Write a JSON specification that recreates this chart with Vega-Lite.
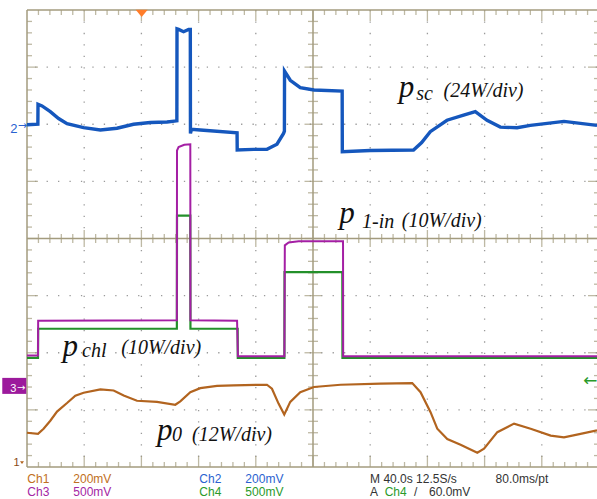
{
"$schema":"https://vega.github.io/schema/vega-lite/v6.json",
"width":570,"height":457,
"autosize":{"type":"none"},
"padding":{"left":27,"top":10,"right":0,"bottom":32},
"background":"#ffffff",
"config":{"view":{"stroke":null}},
"datasets":{
"traces":[
{"ch":"Ch2","t":0,"v":5.99},{"ch":"Ch2","t":7.6,"v":6.0},{"ch":"Ch2","t":7.7,"v":6.35},{"ch":"Ch2","t":10.5,"v":6.32},{"ch":"Ch2","t":16.3,"v":6.22},{"ch":"Ch2","t":22.1,"v":6.10},{"ch":"Ch2","t":28.0,"v":6.01},{"ch":"Ch2","t":39.6,"v":5.94},{"ch":"Ch2","t":51.3,"v":5.90},{"ch":"Ch2","t":62.9,"v":5.93},{"ch":"Ch2","t":74.5,"v":6.00},{"ch":"Ch2","t":86.2,"v":6.03},{"ch":"Ch2","t":97.9,"v":6.04},{"ch":"Ch2","t":104.8,"v":6.06},{"ch":"Ch2","t":104.9,"v":7.67},{"ch":"Ch2","t":106.0,"v":7.66},{"ch":"Ch2","t":109.5,"v":7.62},{"ch":"Ch2","t":113.0,"v":7.66},{"ch":"Ch2","t":114.2,"v":7.66},{"ch":"Ch2","t":114.3,"v":5.84},{"ch":"Ch2","t":115.0,"v":5.91},{"ch":"Ch2","t":121.2,"v":5.90},{"ch":"Ch2","t":146.9,"v":5.85},{"ch":"Ch2","t":147.0,"v":5.55},{"ch":"Ch2","t":158.5,"v":5.56},{"ch":"Ch2","t":167.8,"v":5.56},{"ch":"Ch2","t":174.8,"v":5.65},{"ch":"Ch2","t":179.4,"v":5.84},{"ch":"Ch2","t":180.0,"v":5.88},{"ch":"Ch2","t":180.1,"v":6.93},{"ch":"Ch2","t":184.1,"v":6.77},{"ch":"Ch2","t":191.1,"v":6.64},{"ch":"Ch2","t":200.7,"v":6.60},{"ch":"Ch2","t":220.4,"v":6.58},{"ch":"Ch2","t":220.5,"v":5.52},{"ch":"Ch2","t":240,"v":5.54},{"ch":"Ch2","t":270.3,"v":5.55},{"ch":"Ch2","t":276,"v":5.68},{"ch":"Ch2","t":282.0,"v":5.87},{"ch":"Ch2","t":293.7,"v":6.07},{"ch":"Ch2","t":305.3,"v":6.16},{"ch":"Ch2","t":313.5,"v":6.22},{"ch":"Ch2","t":321.7,"v":6.07},{"ch":"Ch2","t":331.0,"v":5.95},{"ch":"Ch2","t":342.7,"v":5.94},{"ch":"Ch2","t":352.0,"v":5.98},{"ch":"Ch2","t":375.5,"v":6.05},{"ch":"Ch2","t":398.6,"v":5.98},
{"ch":"Ch4","t":0,"v":1.91},{"ch":"Ch4","t":7.7,"v":1.91},{"ch":"Ch4","t":7.8,"v":2.42},{"ch":"Ch4","t":104.8,"v":2.42},{"ch":"Ch4","t":104.9,"v":4.40},{"ch":"Ch4","t":114.2,"v":4.40},{"ch":"Ch4","t":114.3,"v":2.42},{"ch":"Ch4","t":147.3,"v":2.42},{"ch":"Ch4","t":147.4,"v":1.91},{"ch":"Ch4","t":180.0,"v":1.91},{"ch":"Ch4","t":180.1,"v":3.41},{"ch":"Ch4","t":220.5,"v":3.41},{"ch":"Ch4","t":220.6,"v":1.91},{"ch":"Ch4","t":398.6,"v":1.91},
{"ch":"Ch3","t":0,"v":1.95},{"ch":"Ch3","t":7.7,"v":1.95},{"ch":"Ch3","t":7.8,"v":2.56},{"ch":"Ch3","t":104.8,"v":2.57},{"ch":"Ch3","t":104.9,"v":5.54},{"ch":"Ch3","t":106,"v":5.6},{"ch":"Ch3","t":110,"v":5.64},{"ch":"Ch3","t":114.2,"v":5.65},{"ch":"Ch3","t":114.3,"v":2.57},{"ch":"Ch3","t":146.9,"v":2.56},{"ch":"Ch3","t":147.5,"v":1.94},{"ch":"Ch3","t":180.0,"v":1.94},{"ch":"Ch3","t":180.3,"v":3.88},{"ch":"Ch3","t":183,"v":3.93},{"ch":"Ch3","t":190,"v":3.95},{"ch":"Ch3","t":221,"v":3.95},{"ch":"Ch3","t":221.1,"v":1.94},{"ch":"Ch3","t":398.6,"v":1.94},
{"ch":"Ch1","t":0,"v":0.60},{"ch":"Ch1","t":7.7,"v":0.58},{"ch":"Ch1","t":11.6,"v":0.67},{"ch":"Ch1","t":16.3,"v":0.81},{"ch":"Ch1","t":21.0,"v":0.97},{"ch":"Ch1","t":28.0,"v":1.12},{"ch":"Ch1","t":33.8,"v":1.25},{"ch":"Ch1","t":39.6,"v":1.30},{"ch":"Ch1","t":51.3,"v":1.36},{"ch":"Ch1","t":60.6,"v":1.34},{"ch":"Ch1","t":67.6,"v":1.25},{"ch":"Ch1","t":76.9,"v":1.16},{"ch":"Ch1","t":90.9,"v":1.14},{"ch":"Ch1","t":103.7,"v":1.09},{"ch":"Ch1","t":107.2,"v":1.15},{"ch":"Ch1","t":114.2,"v":1.31},{"ch":"Ch1","t":121.2,"v":1.38},{"ch":"Ch1","t":132.9,"v":1.42},{"ch":"Ch1","t":144.5,"v":1.43},{"ch":"Ch1","t":167.8,"v":1.44},{"ch":"Ch1","t":171.3,"v":1.37},{"ch":"Ch1","t":175.9,"v":1.11},{"ch":"Ch1","t":179.9,"v":0.92},{"ch":"Ch1","t":184.1,"v":1.14},{"ch":"Ch1","t":191.1,"v":1.31},{"ch":"Ch1","t":200.7,"v":1.40},{"ch":"Ch1","t":219.3,"v":1.44},{"ch":"Ch1","t":247.3,"v":1.46},{"ch":"Ch1","t":269.4,"v":1.47},{"ch":"Ch1","t":275.2,"v":1.31},{"ch":"Ch1","t":282.2,"v":0.96},{"ch":"Ch1","t":286.9,"v":0.67},{"ch":"Ch1","t":293.9,"v":0.49},{"ch":"Ch1","t":303.2,"v":0.39},{"ch":"Ch1","t":314.9,"v":0.25},{"ch":"Ch1","t":319.6,"v":0.32},{"ch":"Ch1","t":328.9,"v":0.61},{"ch":"Ch1","t":340.6,"v":0.76},{"ch":"Ch1","t":352.2,"v":0.67},{"ch":"Ch1","t":366.2,"v":0.55},{"ch":"Ch1","t":375.5,"v":0.52},{"ch":"Ch1","t":387.1,"v":0.58},{"ch":"Ch1","t":398.6,"v":0.64}
],
"tx":[{"t":8},{"t":16},{"t":24},{"t":32},{"t":40},{"t":48},{"t":56},{"t":64},{"t":72},{"t":80},{"t":88},{"t":96},{"t":104},{"t":112},{"t":120},{"t":128},{"t":136},{"t":144},{"t":152},{"t":160},{"t":168},{"t":176},{"t":184},{"t":192},{"t":200},{"t":208},{"t":216},{"t":224},{"t":232},{"t":240},{"t":248},{"t":256},{"t":264},{"t":272},{"t":280},{"t":288},{"t":296},{"t":304},{"t":312},{"t":320},{"t":328},{"t":336},{"t":344},{"t":352},{"t":360},{"t":368},{"t":376},{"t":384},{"t":392}],
"ty":[{"v":0.2},{"v":0.4},{"v":0.6},{"v":0.8},{"v":1},{"v":1.2},{"v":1.4},{"v":1.6},{"v":1.8},{"v":2},{"v":2.2},{"v":2.4},{"v":2.6},{"v":2.8},{"v":3},{"v":3.2},{"v":3.4},{"v":3.6},{"v":3.8},{"v":4},{"v":4.2},{"v":4.4},{"v":4.6},{"v":4.8},{"v":5},{"v":5.2},{"v":5.4},{"v":5.6},{"v":5.8},{"v":6},{"v":6.2},{"v":6.4},{"v":6.6},{"v":6.8},{"v":7},{"v":7.2},{"v":7.4},{"v":7.6},{"v":7.8}],
"gx":[{"t":40},{"t":80},{"t":120},{"t":160},{"t":240},{"t":280},{"t":320},{"t":360}],
"gy":[{"v":1},{"v":2},{"v":3},{"v":5},{"v":6},{"v":7}],
"hl":[{"v":0},{"v":4},{"v":8}],
"vl":[{"t":0},{"t":200}],
"pl":[{"t":259.9,"v":6.48,"text":"p"},{"t":218.4,"v":4.27,"text":"p"},{"t":24.9,"v":1.95,"text":"p"},{"t":90.9,"v":0.465,"text":"p"}],
"sub":[{"t":272.2,"v":6.43,"text":"sc"},{"t":234.3,"v":4.18,"text":"1-in"},{"t":38.5,"v":1.93,"text":"chl"},{"t":101.4,"v":0.45,"text":"0"}],
"unit":[{"t":291.3,"v":6.47,"text":"(24W/div)"},{"t":262.1,"v":4.20,"text":"(10W/div)"},{"t":65.9,"v":1.97,"text":"(10W/div)"},{"t":115.4,"v":0.455,"text":"(12W/div)"}],
"status":[
{"t":0.2,"v":-0.274,"text":"Ch1","ch":"Ch1"},{"t":32.4,"v":-0.274,"text":"200mV","ch":"Ch1"},{"t":120.5,"v":-0.274,"text":"Ch2","ch":"Ch2"},{"t":152.7,"v":-0.274,"text":"200mV","ch":"Ch2"},{"t":239.9,"v":-0.274,"text":"M 40.0s 12.5S/s","ch":"M"},{"t":327.7,"v":-0.274,"text":"80.0ms/pt","ch":"M"},
{"t":0.2,"v":-0.502,"text":"Ch3","ch":"Ch3"},{"t":32.4,"v":-0.502,"text":"500mV","ch":"Ch3"},{"t":120.5,"v":-0.502,"text":"Ch4","ch":"Ch4"},{"t":152.7,"v":-0.502,"text":"500mV","ch":"Ch4"},{"t":239.9,"v":-0.502,"text":"A","ch":"M"},{"t":250.1,"v":-0.502,"text":"Ch4","ch":"Ch4"},{"t":270.6,"v":-0.502,"text":"/","ch":"M"},{"t":281.1,"v":-0.502,"text":"60.0mV","ch":"M"}],
"mk":[
{"kind":"ch2num","t":-11.7,"v":5.85,"text":"2"},
{"kind":"ch2arrow","t":0,"v":5.97,"text":"→"},
{"kind":"ch3box","t":-8.9,"v":1.42},
{"kind":"ch3num","t":-11.7,"v":1.31,"text":"3"},
{"kind":"ch3arrow","t":-1.2,"v":1.39,"text":"→"},
{"kind":"ch1num","t":-9.4,"v":0.02,"text":"1"},
{"kind":"ch1arrow","t":-3.5,"v":0.08},
{"kind":"trig","t":80.2,"v":7.94},
{"kind":"level","t":389.0,"v":1.51,"text":"←"}]
},
"layer":[
{"data":{"name":"gx"},
 "mark":{"type":"rule","color":"#9a9a9a","strokeWidth":1.3,"strokeDash":[1.3,10.125]},
 "encoding":{"x":{"field":"t","type":"quantitative","scale":{"domain":[0,398.6],"nice":false,"zero":false},"axis":null}}},
{"data":{"name":"gy"},
 "mark":{"type":"rule","color":"#9a9a9a","strokeWidth":1.3,"strokeDash":[1.3,10.14]},
 "encoding":{"y":{"field":"v","type":"quantitative","scale":{"domain":[0,8],"nice":false,"zero":false},"axis":null}}},
{"data":{"name":"tx"},"transform":[{"filter":"datum.t % 40 != 0"}],
 "mark":{"type":"tick","orient":"vertical","size":5,"thickness":1.3,"color":"#a39b7e","yOffset":2.5},
 "encoding":{"x":{"field":"t","type":"quantitative","axis":null},"y":{"datum":8,"type":"quantitative","axis":null}}},
{"data":{"name":"ty"},"transform":[{"filter":"abs(datum.v - round(datum.v)) > 0.01"}],
 "mark":{"type":"tick","orient":"horizontal","size":5,"thickness":1.3,"color":"#a39b7e","xOffset":2.5},
 "encoding":{"y":{"field":"v","type":"quantitative","axis":null},"x":{"datum":0,"type":"quantitative","axis":null}}},
{"data":{"name":"tx"},"transform":[{"filter":"datum.t % 40 == 0"}],
 "mark":{"type":"tick","orient":"vertical","size":11,"thickness":1.3,"color":"#a39b7e","yOffset":5.5},
 "encoding":{"x":{"field":"t","type":"quantitative","axis":null},"y":{"datum":8,"type":"quantitative","axis":null}}},
{"data":{"name":"tx"},"transform":[{"filter":"datum.t % 40 != 0"}],
 "mark":{"type":"tick","orient":"vertical","size":5,"thickness":1.3,"color":"#a39b7e","yOffset":-2.5},
 "encoding":{"x":{"field":"t","type":"quantitative","axis":null},"y":{"datum":0,"type":"quantitative","axis":null}}},
{"data":{"name":"tx"},"transform":[{"filter":"datum.t % 40 == 0"}],
 "mark":{"type":"tick","orient":"vertical","size":11,"thickness":1.3,"color":"#a39b7e","yOffset":-5.5},
 "encoding":{"x":{"field":"t","type":"quantitative","axis":null},"y":{"datum":0,"type":"quantitative","axis":null}}},
{"data":{"name":"tx"},"transform":[{"filter":"datum.t % 40 != 0"}],
 "mark":{"type":"tick","orient":"vertical","size":9,"thickness":1.3,"color":"#a39b7e"},
 "encoding":{"x":{"field":"t","type":"quantitative","axis":null},"y":{"datum":4,"type":"quantitative","axis":null}}},
{"data":{"name":"tx"},"transform":[{"filter":"datum.t % 40 == 0"}],
 "mark":{"type":"tick","orient":"vertical","size":17,"thickness":1.3,"color":"#a39b7e"},
 "encoding":{"x":{"field":"t","type":"quantitative","axis":null},"y":{"datum":4,"type":"quantitative","axis":null}}},
{"data":{"name":"ty"},"transform":[{"filter":"abs(datum.v - round(datum.v)) < 0.01"}],
 "mark":{"type":"tick","orient":"horizontal","size":11,"thickness":1.3,"color":"#a39b7e","xOffset":5.5},
 "encoding":{"y":{"field":"v","type":"quantitative","axis":null},"x":{"datum":0,"type":"quantitative","axis":null}}},
{"data":{"name":"ty"},"transform":[{"filter":"abs(datum.v - round(datum.v)) > 0.01"}],
 "mark":{"type":"tick","orient":"horizontal","size":5,"thickness":1.3,"color":"#a39b7e","xOffset":-2.5},
 "encoding":{"y":{"field":"v","type":"quantitative","axis":null},"x":{"datum":400,"type":"quantitative","axis":null}}},
{"data":{"name":"ty"},"transform":[{"filter":"abs(datum.v - round(datum.v)) < 0.01"}],
 "mark":{"type":"tick","orient":"horizontal","size":11,"thickness":1.3,"color":"#a39b7e","xOffset":-5.5},
 "encoding":{"y":{"field":"v","type":"quantitative","axis":null},"x":{"datum":400,"type":"quantitative","axis":null}}},
{"data":{"name":"ty"},"transform":[{"filter":"abs(datum.v - round(datum.v)) > 0.01"}],
 "mark":{"type":"tick","orient":"horizontal","size":10,"thickness":1.3,"color":"#a39b7e"},
 "encoding":{"y":{"field":"v","type":"quantitative","axis":null},"x":{"datum":200,"type":"quantitative","axis":null}}},
{"data":{"name":"ty"},"transform":[{"filter":"abs(datum.v - round(datum.v)) < 0.01"}],
 "mark":{"type":"tick","orient":"horizontal","size":17,"thickness":1.3,"color":"#a39b7e"},
 "encoding":{"y":{"field":"v","type":"quantitative","axis":null},"x":{"datum":200,"type":"quantitative","axis":null}}},
{"data":{"name":"hl"},"mark":{"type":"rule","color":"#a39b7e","strokeWidth":1.5},
 "encoding":{"y":{"field":"v","type":"quantitative","axis":null}}},
{"data":{"name":"vl"},"mark":{"type":"rule","color":"#a39b7e","strokeWidth":1.5},
 "encoding":{"x":{"field":"t","type":"quantitative","axis":null}}},
{"data":{"name":"traces"},"transform":[{"filter":"datum.ch == 'Ch4'"}],
 "mark":{"type":"line","color":"#23902a","strokeWidth":2.2},
 "encoding":{"x":{"field":"t","type":"quantitative","axis":null},"y":{"field":"v","type":"quantitative","axis":null},"order":{"field":"t"}}},
{"data":{"name":"traces"},"transform":[{"filter":"datum.ch == 'Ch3'"}],
 "mark":{"type":"line","color":"#a41fa4","strokeWidth":2},
 "encoding":{"x":{"field":"t","type":"quantitative","axis":null},"y":{"field":"v","type":"quantitative","axis":null},"order":{"field":"t"}}},
{"data":{"name":"traces"},"transform":[{"filter":"datum.ch == 'Ch1'"}],
 "mark":{"type":"line","color":"#b2641f","strokeWidth":2.2},
 "encoding":{"x":{"field":"t","type":"quantitative","axis":null},"y":{"field":"v","type":"quantitative","axis":null},"order":{"field":"t"}}},
{"data":{"name":"traces"},"transform":[{"filter":"datum.ch == 'Ch2'"}],
 "mark":{"type":"line","color":"#1557bd","strokeWidth":3.4},
 "encoding":{"x":{"field":"t","type":"quantitative","axis":null},"y":{"field":"v","type":"quantitative","axis":null},"order":{"field":"t"}}},
{"data":{"name":"pl"},"mark":{"type":"text","font":"Liberation Serif","fontSize":31,"fontStyle":"italic","align":"left","baseline":"alphabetic","color":"#111111"},
 "encoding":{"x":{"field":"t","type":"quantitative","axis":null},"y":{"field":"v","type":"quantitative","axis":null},"text":{"field":"text"}}},
{"data":{"name":"sub"},"mark":{"type":"text","font":"Liberation Serif","fontSize":20,"fontStyle":"italic","align":"left","baseline":"alphabetic","color":"#111111"},
 "encoding":{"x":{"field":"t","type":"quantitative","axis":null},"y":{"field":"v","type":"quantitative","axis":null},"text":{"field":"text"}}},
{"data":{"name":"unit"},"mark":{"type":"text","font":"Liberation Serif","fontSize":20,"fontStyle":"italic","align":"left","baseline":"alphabetic","color":"#111111"},
 "encoding":{"x":{"field":"t","type":"quantitative","axis":null},"y":{"field":"v","type":"quantitative","axis":null},"text":{"field":"text"}}},
{"data":{"name":"status"},"mark":{"type":"text","font":"Liberation Sans","fontSize":12,"align":"left","baseline":"alphabetic"},
 "encoding":{"x":{"field":"t","type":"quantitative","axis":null},"y":{"field":"v","type":"quantitative","axis":null},"text":{"field":"text"},
  "color":{"field":"ch","type":"nominal","scale":{"domain":["Ch1","Ch2","Ch3","Ch4","M"],"range":["#bf6f22","#2a62d0","#a425a4","#2a9a2a","#333333"]},"legend":null}}},
{"data":{"name":"mk"},"transform":[{"filter":"datum.kind == 'ch2num'"}],"mark":{"type":"text","font":"Liberation Sans","fontSize":13,"align":"left","baseline":"alphabetic","color":"#2a62d0"},
 "encoding":{"x":{"field":"t","type":"quantitative","axis":null},"y":{"field":"v","type":"quantitative","axis":null},"text":{"field":"text"}}},
{"data":{"name":"mk"},"transform":[{"filter":"datum.kind == 'ch2arrow'"}],"mark":{"type":"text","font":"DejaVu Sans","fontSize":11,"align":"right","baseline":"middle","color":"#2a62d0"},
 "encoding":{"x":{"field":"t","type":"quantitative","axis":null},"y":{"field":"v","type":"quantitative","axis":null},"text":{"field":"text"}}},
{"data":{"name":"mk"},"transform":[{"filter":"datum.kind == 'ch3box'"}],"mark":{"type":"point","filled":true,"opacity":1,"shape":"M-1.5,-1L1.5,-1L1.5,1L-1.5,1Z","size":256,"color":"#9c1a9c"},
 "encoding":{"x":{"field":"t","type":"quantitative","axis":null},"y":{"field":"v","type":"quantitative","axis":null}}},
{"data":{"name":"mk"},"transform":[{"filter":"datum.kind == 'ch3num'"}],"mark":{"type":"text","font":"Liberation Sans","fontSize":11,"align":"left","baseline":"alphabetic","color":"#ffffff"},
 "encoding":{"x":{"field":"t","type":"quantitative","axis":null},"y":{"field":"v","type":"quantitative","axis":null},"text":{"field":"text"}}},
{"data":{"name":"mk"},"transform":[{"filter":"datum.kind == 'ch3arrow'"}],"mark":{"type":"text","font":"DejaVu Sans","fontSize":10,"align":"right","baseline":"middle","color":"#ffffff"},
 "encoding":{"x":{"field":"t","type":"quantitative","axis":null},"y":{"field":"v","type":"quantitative","axis":null},"text":{"field":"text"}}},
{"data":{"name":"mk"},"transform":[{"filter":"datum.kind == 'ch1num'"}],"mark":{"type":"text","font":"Liberation Sans","fontSize":11,"align":"left","baseline":"alphabetic","color":"#8a4a14"},
 "encoding":{"x":{"field":"t","type":"quantitative","axis":null},"y":{"field":"v","type":"quantitative","axis":null},"text":{"field":"text"}}},
{"data":{"name":"mk"},"transform":[{"filter":"datum.kind == 'ch1arrow'"}],"mark":{"type":"point","filled":true,"opacity":1,"shape":"M-1,-0.6L1,-0.6L0,0.8Z","size":16,"color":"#b2641f"},
 "encoding":{"x":{"field":"t","type":"quantitative","axis":null},"y":{"field":"v","type":"quantitative","axis":null}}},
{"data":{"name":"mk"},"transform":[{"filter":"datum.kind == 'trig'"}],"mark":{"type":"point","filled":true,"opacity":1,"shape":"M-1,-0.6L1,-0.6L0,0.6Z","size":144,"color":"#ff7d2a"},
 "encoding":{"x":{"field":"t","type":"quantitative","axis":null},"y":{"field":"v","type":"quantitative","axis":null}}},
{"data":{"name":"mk"},"transform":[{"filter":"datum.kind == 'level'"}],"mark":{"type":"text","font":"DejaVu Sans","fontSize":17,"align":"left","baseline":"middle","color":"#2a9a2a"},
 "encoding":{"x":{"field":"t","type":"quantitative","axis":null},"y":{"field":"v","type":"quantitative","axis":null},"text":{"field":"text"}}}
]
}
